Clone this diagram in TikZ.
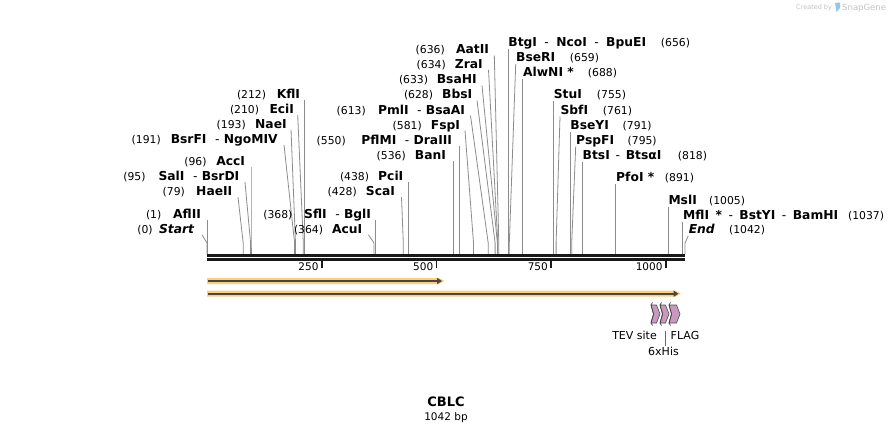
\documentclass[tikz,border=0pt]{standalone}
\usepackage{fontspec}
\setmainfont{DejaVu Sans}
\usetikzlibrary{arrows.meta,calc}
\definecolor{halo}{RGB}{252,208,120}
\definecolor{inner}{RGB}{70,70,70}
\definecolor{tagpink}{RGB}{200,152,192}
\definecolor{conngray}{RGB}{140,140,140}
\definecolor{rulerc}{RGB}{25,25,25}
\definecolor{wmgray}{RGB}{195,195,195}
\definecolor{wmblue}{RGB}{150,195,240}
\newcommand\numf{\fontsize{10.8}{12}\selectfont\mdseries\upshape}
\newcommand\namef{\fontsize{12.3}{14}\selectfont\bfseries}
\newcommand\ldsh{\ \ {\mdseries-}\ }
\newcommand\rdsh{\ {\mdseries-}\ }
\newcommand\spread[2]{\makebox[#1pt][s]{#2}}
% name, name right edge, baseline, number, name text, line start x, position x, number left edge
\newcommand\Llab[8]{%
  \node[lab, anchor=base east] (#1) at (#2,#3) {\namef #5};
  \node[lab, anchor=base west] (#1n) at (#8,#3) {\numf(#4)};
  \coordinate (#1s) at (#6,#3+1.5);
  \coordinate (#1b) at (#7,243);
  \coordinate (#1r) at (#7,254);
  \draw[conn] (#1s) -- (#1b) -- (#1r);
}
% name, name left edge, baseline, name text, number, position x, number right edge
\newcommand\Rlab[7]{%
  \node[lab, anchor=base west] (#1) at (#2+0.5,#3) {\namef #4};
  \node[lab, anchor=base east] (#1n) at (#7,#3) {\numf(#5)};
  \coordinate (#1s) at (#2,#3+2.5);
  \coordinate (#1b) at (#6,243);
  \coordinate (#1r) at (#6,254);
  \draw[conn] (#1s) -- (#1b) -- (#1r);
}
\newcommand\Tick[3]{%
  \coordinate (t#1) at (#2,258.5);
  \draw[tickline] (t#1) -- ++(0,9.5);
  \node[ticklab, anchor=base east] (tl#1) at (#2-3,270.5) {#3};
}
\newcommand\Tagshape[3]{%
  \filldraw[tagbox] (#2,305) -- (#3-3.5,305) -- (#3,314) -- (#3-3.5,323) -- (#2,323) -- (#2+2.5,314) -- cycle;
  \draw[tagedge] (#2+1.5,302.5) -- (#2,305) -- (#2+2.5,314) -- (#2,323) -- (#2+1.5,325.5);
  \coordinate (#1) at ({(#2+#3)/2},323);
}
\begin{document}
\begin{tikzpicture}[x=1pt,y=-1pt,
  lab/.style={inner sep=0pt, outer sep=0pt},
  conn/.style={draw=conngray, line width=0.8pt},
  tickline/.style={draw=rulerc, line width=1.6pt},
  ticklab/.style={inner sep=0pt, font=\fontsize{10.5}{12}\selectfont},
  tagbox/.style={fill=tagpink, draw=black!70, line width=0.6pt},
  tagedge/.style={draw=black!75, line width=0.7pt},
  featlab/.style={inner sep=0pt, font=\fontsize{11}{13}\selectfont},
]
\useasboundingbox (0,0) rectangle (893,433);
\fill[white] (0,0) rectangle (893,433);

% watermark
\node[inner sep=0pt, anchor=base west, text=wmgray, font=\fontsize{6.5}{8}\selectfont] (wm1) at (796,10) {Created by};
\fill[wmblue] (835,3) -- (840,2.5) -- (840,8) -- (836.5,12) -- cycle;
\node[inner sep=0pt, anchor=base west, text=wmgray, font=\fontsize{8.5}{10}\selectfont] (wm2) at (842,10.5) {SnapGene};

% left labels
\Llab{KflI}{300}{99}{212}{KflI}{304.3}{304.3}{237}
\Llab{EciI}{294}{113.3}{210}{EciI}{297.7}{303.3}{230}
\Llab{NaeI}{286.7}{128.3}{193}{NaeI}{291}{295.5}{216.7}
\Llab{BsrFI}{277.7}{143.3}{191}{BsrFI\ldsh NgoMIV}{284}{294.6}{131.7}
\Llab{AccI}{245}{165.7}{96}{AccI}{251}{251}{184.3}
\Llab{SalI}{239.3}{180.7}{95}{SalI\ldsh BsrDI}{245}{250.6}{123.3}
\Llab{HaeII}{232.3}{195.7}{79}{HaeII}{238}{243.2}{162.7}
\Llab{AflII}{201}{218.3}{1}{AflII}{207.5}{207.5}{146}
\Llab{Start}{194}{233.3}{0}{\itshape Start}{202}{207}{137.3}
\Llab{AatII}{489}{54}{636}{AatII}{494.3}{498.8}{415.7}
\Llab{ZraI}{482.7}{68.3}{634}{ZraI}{488.5}{497.8}{416.7}
\Llab{BsaHI}{476.7}{84}{633}{BsaHI}{482}{497.4}{399}
\Llab{BbsI}{472.3}{99}{628}{BbsI}{477}{495.1}{404}
\Llab{PmlI}{465}{114}{613}{PmlI\ldsh BsaAI}{470.5}{488.2}{336.7}
\Llab{FspI}{460}{129}{581}{FspI}{465}{473.5}{392.7}
\Llab{PflMI}{452}{144}{550}{PflMI\ldsh DraIII}{459.3}{459.3}{316.7}
\Llab{BanI}{446}{159}{536}{BanI}{452.9}{452.9}{376.7}
\Llab{PciI}{403.3}{180.7}{438}{PciI}{407.9}{407.9}{340}
\Llab{ScaI}{395}{195.7}{428}{ScaI}{401.5}{403.3}{327.7}
\Llab{SflI}{371}{218.3}{368}{SflI\ldsh BglI}{375.8}{375.8}{263.3}
\Llab{AcuI}{362.3}{233.3}{364}{AcuI}{368.5}{374}{294}

% right labels
\Rlab{BtgI}{507.9}{46.7}{\spread{137.7}{BtgI\rdsh NcoI\rdsh BpuEI}}{656}{507.9}{690}
\Rlab{BseRI}{515.7}{61.7}{BseRI}{659}{509.3}{599}
\Rlab{AlwNI}{522.6}{76.7}{AlwNI *}{688}{522.6}{617}
\Rlab{StuI}{553.3}{99}{StuI}{755}{553.3}{626}
\Rlab{SbfI}{560}{114}{SbfI}{761}{556.1}{632}
\Rlab{BseYI}{569.9}{129}{BseYI}{791}{569.9}{651.7}
\Rlab{PspFI}{575.7}{144}{PspFI}{795}{571.7}{656.7}
\Rlab{BtsI}{582.2}{159}{\spread{78.7}{BtsI\rdsh BtsαI}}{818}{582.2}{707}
\Rlab{PfoI}{615.7}{181.7}{PfoI *}{891}{615.7}{694}
\Rlab{MslI}{668}{204.3}{MslI}{1005}{668}{745}
\Rlab{MflI}{682.7}{219.3}{\spread{155}{MflI *\rdsh BstYI\rdsh BamHI}}{1037}{682.7}{884}
\Rlab{End}{688.3}{233.3}{\itshape End}{1042}{685}{765}

% ruler
\coordinate (r0) at (207,255.3);
\coordinate (r1) at (685,255.3);
\coordinate (q0) at (207,259.6);
\coordinate (q1) at (685,259.6);
\draw[draw=rulerc, line width=2.7pt] (r0) -- (r1);
\draw[draw=rulerc, line width=2.3pt] (q0) -- (q1);
\Tick{250}{321.7}{250}
\Tick{500}{436.4}{500}
\Tick{750}{551}{750}
\Tick{1000}{665.7}{1000}

% orange features
\fill[halo] (207,278) -- (439,278) -- (444.5,281) -- (439,284) -- (207,284) -- cycle;
\coordinate (a0) at (208,281);
\coordinate (a1) at (442,281);
\draw[inner, line width=1.8pt, -{Triangle[length=5pt,width=6pt]}] (a0) -- (a1);
\fill[halo] (207,290.7) -- (675.5,290.7) -- (681,293.7) -- (675.5,296.7) -- (207,296.7) -- cycle;
\coordinate (b0) at (208,293.7);
\coordinate (b1) at (678.5,293.7);
\draw[inner, line width=1.8pt, -{Triangle[length=5pt,width=6pt]}] (b0) -- (b1);

% pink tags
\Tagshape{tev}{651}{660}
\Tagshape{his}{660}{669}
\Tagshape{flag}{669}{680}
\node[featlab, anchor=base east] (tevl) at (657,339.5) {TEV site};
\node[featlab, anchor=base west] (flagl) at (670.5,339.5) {FLAG};
\node[featlab, anchor=base] (hisl) at (663.5,355) {6xHis};
\coordinate (hisc) at (665.5,331);
\draw[draw=black!60, line width=0.6pt] (hisc) -- (hisl.north -| hisc);

% title
\node[inner sep=0pt, anchor=base, font=\fontsize{13}{15}\selectfont\bfseries] (title) at (446,406.5) {CBLC};
\node[inner sep=0pt, anchor=base, font=\fontsize{10.5}{12}\selectfont] (size) at (446,420.5) {1042 bp};
\end{tikzpicture}
\end{document}
